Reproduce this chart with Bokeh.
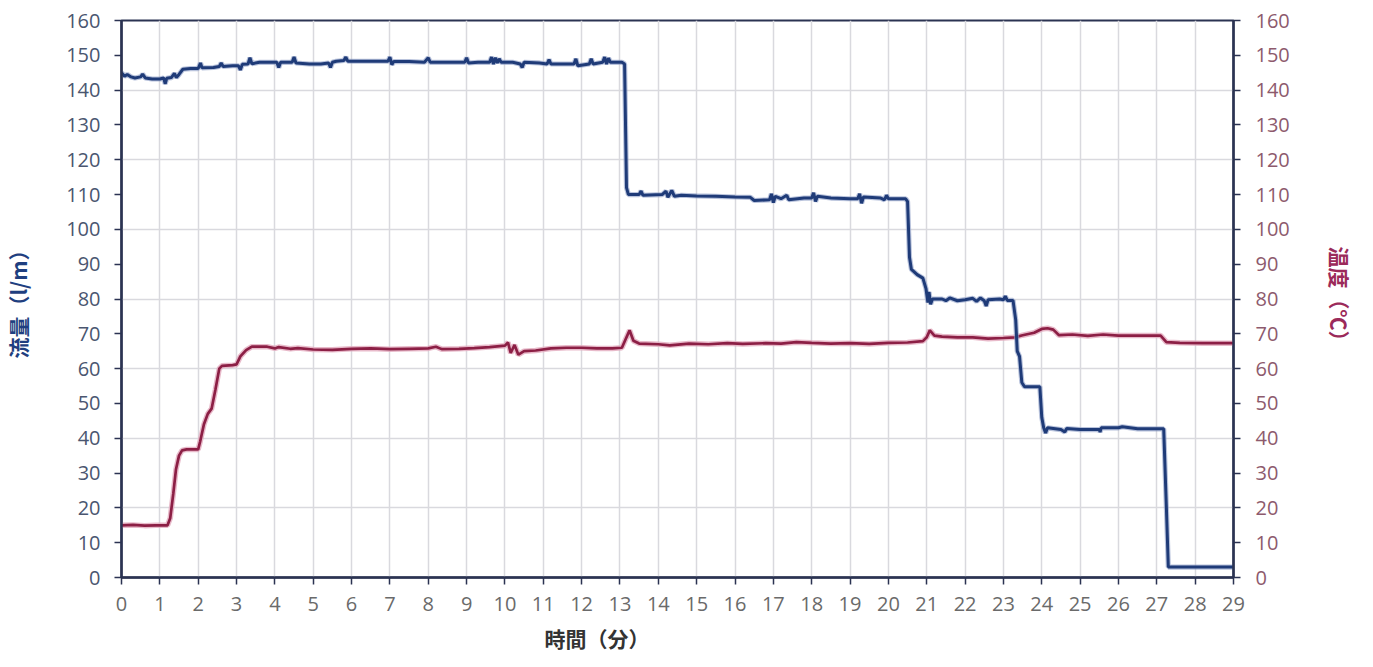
from bokeh.plotting import figure
from bokeh.models import Range1d, LinearAxis, FixedTicker, Title, Grid
from bokeh.embed import file_html
from bokeh.resources import INLINE

# ---- data ----
flow_time = [0.0, 0.08, 0.15, 0.25, 0.35, 0.5, 0.55, 0.62, 0.8, 1.0, 1.1, 1.14, 1.18, 1.3, 1.38, 1.43, 1.5, 1.6,
             1.8, 2.0, 2.06, 2.1, 2.4, 2.55, 2.6, 2.65, 2.9, 3.05, 3.1, 3.15, 3.3, 3.35, 3.4, 3.6, 3.8, 4.05,
             4.1, 4.15, 4.45, 4.5, 4.55, 4.9, 5.2, 5.4, 5.45, 5.5, 5.6, 5.8, 5.85, 5.9, 6.3, 6.6, 6.95, 7.0,
             7.05, 7.1, 7.5, 7.9, 8.0, 8.05, 8.5, 8.95, 9.0, 9.05, 9.3, 9.6, 9.65, 9.7, 9.75, 9.8, 9.85, 9.9,
             10.2, 10.4, 10.45, 10.5, 10.9, 11.1, 11.15, 11.2, 11.6, 11.8, 11.85, 11.9, 12.2, 12.25, 12.3,
             12.55, 12.6, 12.65, 12.7, 12.75, 13.05, 13.12, 13.17, 13.22, 13.5, 13.55, 13.6, 14.1, 14.2,
             14.25, 14.35, 14.42, 14.6, 15.0, 15.5, 16.0, 16.4, 16.5, 16.9, 16.95, 17.0, 17.05, 17.2, 17.35,
             17.4, 17.8, 18.0, 18.05, 18.1, 18.15, 18.5, 19.0, 19.2, 19.25, 19.3, 19.35, 19.8, 19.9, 19.95,
             20.0, 20.45, 20.5, 20.55, 20.6, 20.75, 20.9, 20.98, 21.03, 21.06, 21.1, 21.15, 21.4, 21.5, 21.6,
             21.8, 22.0, 22.2, 22.3, 22.4, 22.5, 22.55, 22.6, 22.9, 23.0, 23.05, 23.1, 23.25, 23.32, 23.36,
             23.42, 23.48, 23.55, 23.95, 24.0, 24.05, 24.1, 24.15, 24.5, 24.6, 24.65, 25.0, 25.5, 25.52,
             25.55, 26.0, 26.1, 26.5, 27.0, 27.18, 27.25, 27.3, 29.0]
flow_rate = [145, 144, 144.5, 143.8, 143.5, 143.8, 144.6, 143.5, 143.2, 143.2, 143.5, 141.8, 143.4, 143.6, 144.8,
             143.6, 144.5, 146, 146.2, 146.2, 147.8, 146.4, 146.5, 146.8, 147.8, 146.8, 147, 147, 145.8, 147.4,
             147.5, 149.3, 147.6, 148, 148, 148, 146.5, 148, 148, 149.5, 147.8, 147.5, 147.5, 147.8, 146.5, 148,
             148.3, 148.5, 149.5, 148.3, 148.3, 148.3, 148.3, 149.5, 147.3, 148.2, 148.2, 148, 149.3, 148, 148,
             148, 149.3, 147.8, 148, 148, 149.5, 147.5, 149.3, 147.8, 149, 148, 148, 147.5, 146.5, 148, 147.8,
             147.5, 148.8, 147.5, 147.5, 147.5, 149, 147, 147.5, 149, 147.5, 148, 149.5, 147.5, 149.2, 148, 148,
             147.5, 112, 110, 110, 111, 109.8, 110, 111, 109.2, 111.2, 109.5, 109.8, 109.6, 109.5, 109.3, 109.2,
             108.3, 108.5, 110.2, 107.7, 109.5, 108.8, 109.8, 108.5, 109, 109, 110.5, 108, 109.5, 109, 108.8,
             108.8, 110.2, 107.5, 109.3, 109, 108.5, 109.8, 108.8, 108.8, 108, 92, 88.5, 87, 86, 83, 79, 82, 78.5,
             80, 80, 79.5, 80.3, 79.5, 79.8, 80.2, 79.3, 80.3, 79.5, 78, 79.8, 80, 79.8, 80.8, 79.6, 79.6, 74, 65,
             63.5, 56, 54.8, 54.8, 46, 43, 41.5, 43, 42.5, 41.8, 42.8, 42.5, 42.5, 41.8, 43, 43, 43.3, 42.7, 42.7,
             42.7, 20, 3, 3]

temp_time = [0, 0.3, 0.6, 0.9, 1.2, 1.27, 1.35, 1.42, 1.5, 1.58, 1.7, 2.0, 2.05, 2.15, 2.25, 2.35, 2.45, 2.55,
             2.62, 2.9, 3.0, 3.1, 3.25, 3.4, 3.8, 4.0, 4.1, 4.4, 4.6, 5.0, 5.5, 6.0, 6.5, 7.0, 7.5, 8.0, 8.2,
             8.35, 8.8, 9.2, 9.6, 10.0, 10.08, 10.15, 10.25, 10.35, 10.5, 10.8, 11.2, 11.6, 12.0, 12.4, 12.8,
             13.05, 13.15, 13.25, 13.35, 13.5, 14.0, 14.3, 14.8, 15.3, 15.8, 16.2, 16.8, 17.2, 17.6, 18.0, 18.5,
             19.0, 19.5, 20.0, 20.5, 20.9, 21.0, 21.08, 21.2, 21.4, 21.8, 22.2, 22.6, 23.0, 23.3, 23.5, 23.8,
             24.0, 24.15, 24.3, 24.45, 24.8, 25.2, 25.6, 26.0, 26.5, 27.1, 27.25, 27.6, 28.2, 29.0]
temp_value = [15, 15.1, 14.9, 15, 15, 17, 24, 31, 35, 36.5, 36.8, 36.8, 39, 44, 47, 48.5, 54, 60, 60.8, 61, 61.2,
              63.5, 65.3, 66.3, 66.3, 65.8, 66.2, 65.7, 65.9, 65.5, 65.4, 65.7, 65.8, 65.6, 65.7, 65.8, 66.3,
              65.6, 65.7, 65.9, 66.2, 66.6, 67.5, 64.5, 66.8, 64, 65, 65.2, 65.8, 66, 66, 65.8, 65.8, 66, 68.5,
              71, 68, 67.2, 67, 66.7, 67.2, 67, 67.3, 67.1, 67.3, 67.2, 67.6, 67.4, 67.2, 67.3, 67.1, 67.4, 67.5,
              67.9, 69, 71, 69.5, 69.2, 69, 69, 68.6, 68.8, 69, 69.6, 70.3, 71.4, 71.6, 71.2, 69.6, 69.8, 69.4,
              69.8, 69.5, 69.5, 69.5, 67.6, 67.4, 67.3, 67.3]

x_ticks = list(range(0, 30))
y_label_ticks = list(range(0, 161, 10))
y_grid_ticks = list(range(0, 161, 20))

x_title = "時間（分）"
left_title = "流量（l/m）"
right_title = "温度（℃）"

# ---- styling ----
AXIS = "#2b3352"
BLUE = "#1f3b78"
RED = "#8c1f45"
TICK_FONT = "Open Sans"
CJK = "Noto Sans CJK JP"

p = figure(width=1357, height=666, x_range=Range1d(0, 29), y_range=Range1d(0, 160),
           output_backend="svg", toolbar_location=None, y_axis_location=None,
           min_border_left=114, min_border_right=122, min_border_top=20, min_border_bottom=89)
p.background_fill_color = "white"
p.border_fill_color = "white"
p.outline_line_color = AXIS
p.outline_line_width = 2

# grids
p.xgrid.ticker = FixedTicker(ticks=x_ticks)
p.xgrid.grid_line_color = "#d9d9de"
p.xgrid.grid_line_width = 1.5
p.add_layout(Grid(dimension=1, ticker=FixedTicker(ticks=y_grid_ticks),
                  grid_line_color="#d9d9de", grid_line_width=1.5))

# x axis
xa = p.xaxis[0]
xa.ticker = FixedTicker(ticks=x_ticks)
xa.axis_line_color = AXIS
xa.axis_line_width = 2.5
xa.major_tick_line_color = AXIS
xa.major_tick_line_width = 1.5
xa.major_tick_out = 7
xa.major_tick_in = 0
xa.minor_tick_line_color = None
xa.major_label_standoff = 12
xa.major_label_text_font = TICK_FONT
xa.major_label_text_font_size = "20px"
xa.major_label_text_color = "#6a6a6a"

p.add_layout(Title(text=x_title, align="left", offset=423, standoff=14,
                   text_font=CJK, text_font_size="21px", text_font_style="bold",
                   text_color="#333333"), "below")


def y_axis(color, title, title_color, label_standoff, standoff):
    return LinearAxis(ticker=FixedTicker(ticks=y_label_ticks), axis_line_color=AXIS, axis_line_width=2.5,
                      major_tick_line_color=AXIS, major_tick_line_width=1.5, major_tick_out=7,
                      major_tick_in=0, minor_tick_line_color=None,
                      major_label_standoff=label_standoff, major_label_text_font=TICK_FONT,
                      major_label_text_font_size="20px", major_label_text_color=color,
                      axis_label=title, axis_label_text_font=CJK, axis_label_text_font_size="21px",
                      axis_label_text_font_style="bold", axis_label_text_color=title_color,
                      axis_label_standoff=standoff)


p.add_layout(y_axis("#4a5670", left_title, "#1f3f80", 14, 30), "left")
p.add_layout(y_axis("#8d5a6d", right_title, "#9b2a5a", 15, 32), "right")

# lines
p.line(temp_time, temp_value, line_color="#e2a9bd", line_width=5.5, line_alpha=0.8)
p.line(temp_time, temp_value, line_color=RED, line_width=2.7)
p.line(flow_time, flow_rate, line_color="#8a9bc4", line_width=5.2, line_alpha=0.6)
p.line(flow_time, flow_rate, line_color=BLUE, line_width=3)

open("out.html", "w").write(file_html(p, INLINE))
